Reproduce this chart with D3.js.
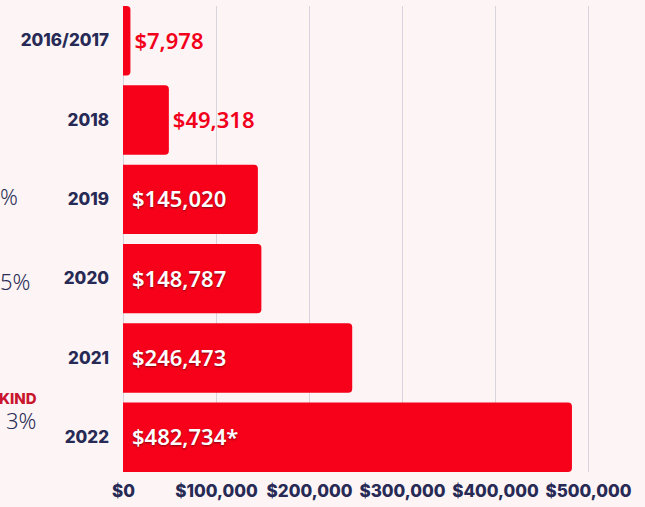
<!DOCTYPE html>
<html lang="en">
<head>
  <meta charset="UTF-8" />
  <title>Donations by year</title>
  <script src="https://d3js.org/d3.v7.min.js"></script>
  <style>
    html, body {
      margin: 0;
      padding: 0;
      background: #fdf5f5;
    }
    svg {
      display: block;
    }
    .cat {
      font-family: Inter, sans-serif;
      font-weight: 800;
      font-size: 17px;
      fill: #272a55;
    }
    .tick text {
      font-family: Inter, sans-serif;
      font-weight: 800;
      font-size: 17px;
      fill: #272a55;
    }
    .val {
      font-family: "Noto Sans", sans-serif;
      font-weight: 600;
      font-size: 22px;
    }
    .val.inside {
      fill: #fff;
      text-shadow: 0 1px 2px rgba(0,0,0,0.45);
    }
    .val.outside {
      fill: #f2001b;
    }
    .side {
      font-family: "Noto Sans", sans-serif;
      font-weight: 300;
      font-size: 22px;
      fill: #2a2d55;
    }
    .side.kind {
      font-family: Inter, sans-serif;
      font-weight: 800;
      font-size: 15px;
      fill: #c9162f;
    }
  </style>
</head>
<body>
  <svg width="645" height="507"></svg>
  <script>
    // data
    const years = ["2016/2017", "2018", "2019", "2020", "2021", "2022"];
    const amounts = [7978, 49318, 145020, 148787, 246473, 482734];
    const valueLabels = ["$7,978", "$49,318", "$145,020", "$148,787", "$246,473", "$482,734*"];
    const tickValues = [0, 100000, 200000, 300000, 400000, 500000];
    // bits of the neighbouring panel that spill in from the left
    const sideTexts = ["%", "5%", "KIND", "3%"];

    const svg = d3.select("svg");
    const margin = {left: 123, top: 6, bottom: 35};

    const x = d3.scaleLinear()
      .domain([0, 500000])
      .range([margin.left, margin.left + 465]);

    const y = d3.scaleBand()
      .domain(years)
      .range([margin.top, 472])
      .paddingInner(0.125)
      .paddingOuter(0);

    // gridlines
    svg.append("g")
      .selectAll("line")
      .data(tickValues)
      .enter()
      .append("line")
      .attr("x1", d => x(d) + 0.5)
      .attr("x2", d => x(d) + 0.5)
      .attr("y1", 6)
      .attr("y2", 472)
      .attr("stroke", "#d9d3de")
      .attr("stroke-width", 1);

    // bars, rounded on the right only
    const r = 4;
    function barPath(d) {
      const x0 = x(0), x1 = x(d.v), y0 = y(d.k), h = y.bandwidth();
      const rr = Math.min(r, (x1 - x0) / 2);
      return `M${x0},${y0}H${x1 - rr}Q${x1},${y0} ${x1},${y0 + rr}` +
        `V${y0 + h - rr}Q${x1},${y0 + h} ${x1 - rr},${y0 + h}H${x0}Z`;
    }

    const rows = years.map((k, i) => ({k: k, v: amounts[i], label: valueLabels[i]}));

    svg.append("g")
      .selectAll("path")
      .data(rows)
      .enter()
      .append("path")
      .attr("d", barPath)
      .attr("fill", "#f6001a");

    // value labels: inside the bar if it fits, otherwise just past its end
    svg.append("g")
      .selectAll("text")
      .data(rows)
      .enter()
      .append("text")
      .attr("class", d => d.v > 100000 ? "val inside" : "val outside")
      .attr("x", d => d.v > 100000 ? x(0) + 9 : x(d.v) + 4)
      .attr("y", d => y(d.k) + y.bandwidth() / 2 + 2)
      .attr("dominant-baseline", "middle")
      .text(d => d.label);

    // category labels
    svg.append("g")
      .selectAll("text")
      .data(years)
      .enter()
      .append("text")
      .attr("class", "cat")
      .attr("x", 109)
      .attr("y", d => y(d) + y.bandwidth() / 2 + 1)
      .attr("text-anchor", "end")
      .attr("dominant-baseline", "middle")
      .text(d => d);

    // x axis
    const xAxis = d3.axisBottom(x)
      .tickValues(tickValues)
      .tickSize(0)
      .tickPadding(0)
      .tickFormat(d => "$" + d3.format(",")(d));

    svg.append("g")
      .attr("transform", "translate(0,484)")
      .call(xAxis)
      .call(g => g.select(".domain").remove())
      .selectAll("text")
      .attr("dy", "0.75em");

    // clipped text from the panel on the left
    const sideY = [199, 284, 400, 423];
    const sideX = [0, 0, -1, 6];
    svg.append("g")
      .selectAll("text")
      .data(sideTexts)
      .enter()
      .append("text")
      .attr("class", d => d === "KIND" ? "side kind" : "side")
      .attr("x", (d, i) => sideX[i])
      .attr("y", (d, i) => sideY[i])
      .attr("dominant-baseline", "middle")
      .text(d => d);
  </script>
</body>
</html>
